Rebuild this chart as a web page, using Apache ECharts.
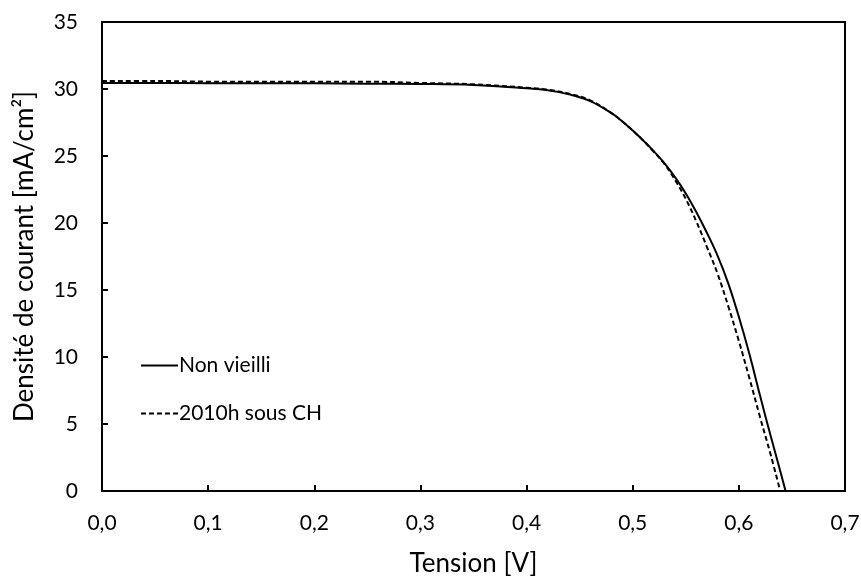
<!DOCTYPE html>
<html>
<head>
<meta charset="utf-8">
<script src="https://cdn.jsdelivr.net/npm/echarts@6/dist/echarts.min.js"></script>
<style>
  html, body { margin: 0; padding: 0; background: #fff; }
  #chart { width: 861px; height: 579px; }
</style>
</head>
<body>
<div id="chart"></div>
<script>
// courbes J-V
const tensionNonVieilli = [0, 0.05, 0.1, 0.15, 0.2, 0.25, 0.3, 0.35, 0.4, 0.42, 0.44, 0.46, 0.48, 0.49, 0.5, 0.51, 0.52, 0.53, 0.54, 0.55, 0.56, 0.57, 0.58, 0.59, 0.6, 0.61, 0.62, 0.63, 0.64, 0.644]
const courantNonVieilli = [30.45, 30.45, 30.43, 30.42, 30.42, 30.4, 30.38, 30.3, 30.05, 29.9, 29.6, 29.1, 28.2, 27.6, 26.9, 26.15, 25.35, 24.45, 23.4, 22.2, 20.8, 19.25, 17.55, 15.5, 13.0, 10.2, 7.1, 4.1, 1.2, 0]

const tension2010h = [0, 0.05, 0.1, 0.15, 0.2, 0.25, 0.3, 0.35, 0.4, 0.42, 0.44, 0.46, 0.48, 0.49, 0.5, 0.51, 0.52, 0.53, 0.54, 0.55, 0.56, 0.57, 0.58, 0.59, 0.6, 0.61, 0.62, 0.63, 0.639]
const courant2010h = [30.6, 30.6, 30.55, 30.55, 30.55, 30.55, 30.45, 30.35, 30.1, 29.95, 29.65, 29.15, 28.2, 27.6, 26.9, 26.15, 25.3, 24.4, 23.2, 21.8, 20.1, 18.2, 16.2, 13.8, 11.2, 8.4, 5.5, 2.7, 0]

const nomsSeries = ['Non vieilli', '2010h sous CH']

const zip = (xs, ys) => xs.map((x, i) => [x, ys[i]])

const police = 'Lato'

var myChart = echarts.init(document.getElementById('chart'))

option = {
  backgroundColor: '#fff',
  animation: false,
  grid: {
    left: 102, right: 16, top: 22, bottom: 88,
    outerBoundsMode: 'none',
    show: true, borderColor: '#000', borderWidth: 2
  },
  legend: {
    data: nomsSeries,
    orient: 'vertical',
    left: 135, top: 350,
    itemWidth: 37, itemHeight: 14, itemGap: 27,
    itemStyle: { color: 'transparent', borderWidth: 0, opacity: 0 },
    textStyle: { color: '#000', fontSize: 21, fontFamily: police, padding: [0, 0, 0, -4] }
  },
  xAxis: {
    type: 'value',
    min: 0, max: 0.7, interval: 0.1,
    name: 'Tension [V]',
    nameLocation: 'middle',
    nameGap: 60,
    nameTextStyle: { color: '#000', fontSize: 26, fontFamily: police },
    axisLine: { lineStyle: { color: '#000', width: 2 } },
    axisTick: { inside: true, length: 6, lineStyle: { color: '#000', width: 2 } },
    axisLabel: {
      color: '#000', fontSize: 21, fontFamily: police, margin: 22,
      formatter: v => v.toFixed(1).replace('.', ',')
    },
    splitLine: { show: false }
  },
  yAxis: {
    type: 'value',
    min: 0, max: 35, interval: 5,
    name: 'Densité de courant [mA/cm²]',
    nameLocation: 'middle',
    nameGap: 64,
    nameTextStyle: { color: '#000', fontSize: 26, fontFamily: police },
    axisLine: { lineStyle: { color: '#000', width: 2 } },
    axisTick: { inside: true, length: 6, lineStyle: { color: '#000', width: 2 } },
    axisLabel: { color: '#000', fontSize: 21, fontFamily: police, margin: 24 },
    splitLine: { show: false }
  },
  series: [{
    name: nomsSeries[0],
    type: 'line',
    data: zip(tensionNonVieilli, courantNonVieilli),
    smooth: 0.4,
    symbol: 'none',
    lineStyle: { color: '#000', width: 2 },
    itemStyle: { color: '#000' }
  }, {
    name: nomsSeries[1],
    type: 'line',
    data: zip(tension2010h, courant2010h),
    smooth: 0.4,
    symbol: 'none',
    lineStyle: { color: '#000', width: 2, type: [5, 3] },
    itemStyle: { color: '#000' }
  }]
}

myChart.setOption(option)
</script>
</body>
</html>
